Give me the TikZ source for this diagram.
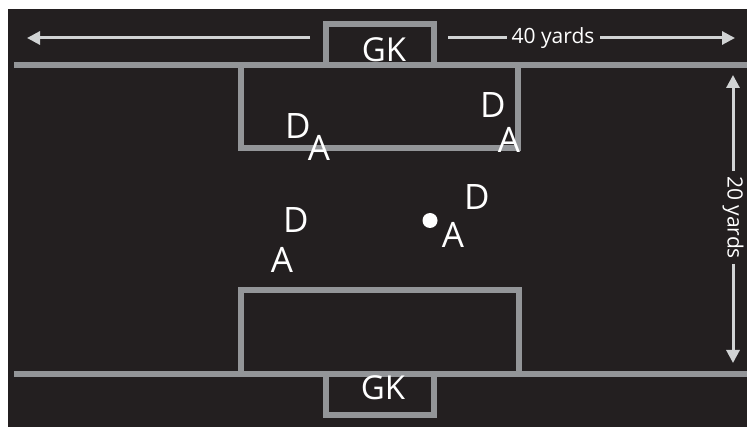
\documentclass[tikz,border=0pt]{standalone}
\usepackage{fontspec}
\setmainfont{Open Sans}
\usetikzlibrary{arrows.meta}
\definecolor{bgc}{HTML}{231F20}
\definecolor{linec}{HTML}{939598}
\definecolor{arrc}{HTML}{D1D3D4}
\begin{document}
\begin{tikzpicture}[x=1pt,y=-1pt,
  fieldline/.style={draw=linec,line width=6pt},
  dimline/.style={draw=arrc,line width=3pt},
  dimarrow/.style={dimline,-{Triangle[length=13pt,width=13pt]}},
  player/.style={text=white,font=\fontsize{35}{35}\selectfont,inner sep=0pt},
  dimlabel/.style={text=white,font=\fontsize{21}{21}\selectfont,inner sep=0pt}]
\useasboundingbox (0,0) rectangle (747,427);
\fill[bgc] (8,9) rectangle (747,427);
% touchlines
\draw[fieldline] (14,65) -- (747,65);
\draw[fieldline] (14,374) -- (747,374);
% penalty boxes
\draw[fieldline] (240.5,65) -- (240.5,148.5) -- (518,148.5) -- (518,65);
\draw[fieldline] (240.5,374) -- (240.5,290) -- (518.5,290) -- (518.5,374);
% goal boxes
\draw[fieldline] (326,65) -- (326,24) -- (434,24) -- (434,65);
\draw[fieldline] (326,374) -- (326,415.5) -- (434,415.5) -- (434,374);
% GK labels
\node[player,font=\fontsize{33}{33}\selectfont] (gk1) at (384,50) {GK};
\node[player,font=\fontsize{33}{33}\selectfont] (gk2) at (383,388) {GK};
% dimension 40 yards
\node[dimlabel] (w) at (553,38) {40 yards};
\coordinate (wl) at (310,38);
\coordinate (wr) at (448,38);
\coordinate (wm) at (507,38);
\coordinate (wn) at (600,38);
\coordinate (wlt) at (27,38);
\coordinate (wrt) at (735,38);
\draw[dimarrow] (wl) -- (wlt);
\draw[dimline] (wr) -- (wm);
\draw[dimarrow] (wn) -- (wrt);
% dimension 20 yards
\node[dimlabel,rotate=-90] (h) at (733,217.5) {20 yards};
\coordinate (hu) at (733,171);
\coordinate (hd) at (733,264);
\coordinate (ht) at (733,75);
\coordinate (hb) at (733,363);
\draw[dimarrow] (hu) -- (ht);
\draw[dimarrow] (hd) -- (hb);
% players
\node[player] (d1) at (298,126) {D};
\node[player] (a1) at (319,148) {A};
\node[player] (d2) at (493,105) {D};
\node[player] (a2) at (509,140) {A};
\node[player] (d3) at (296,220) {D};
\node[player] (a3) at (282,260) {A};
\node[player] (d4) at (477,197) {D};
\node[player] (a4) at (453,235) {A};
% ball
\fill[white] (430,220.5) circle (7.5);
\end{tikzpicture}
\end{document}
